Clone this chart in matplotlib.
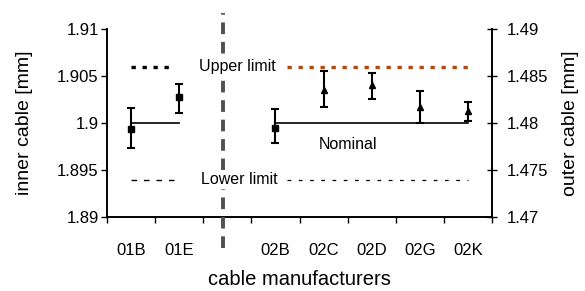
import matplotlib
matplotlib.use('Agg')
import matplotlib.pyplot as plt

plt.rcParams['font.family'] = ['Liberation Sans', 'DejaVu Sans']

# slots along the x axis (slot 2 is the gap between the two groups)
slots = ['01B', '01E', '', '02B', '02C', '02D', '02G', '02K']

# inner cable (left axis)
inner_x = [0, 1]
inner_val = [1.8994, 1.9028]
inner_lo = [1.8974, 1.9011]
inner_hi = [1.9016, 1.9042]

# outer cable (right axis)
outer_x = [3, 4, 5, 6, 7]
outer_val = [1.4795, 1.4835, 1.4841, 1.4817, 1.4813]
outer_lo = [1.4779, 1.4817, 1.4826, 1.4800, 1.4802]
outer_hi = [1.4815, 1.4856, 1.4854, 1.4834, 1.4823]

inner_limits = {'upper': 1.906, 'nominal': 1.9, 'lower': 1.894}
outer_limits = {'upper': 1.486, 'nominal': 1.48, 'lower': 1.474}

fig = plt.figure(figsize=(5.85, 2.91), dpi=100)
ax = fig.add_axes([0.183, 0.254, 0.658, 0.645])
ax2 = ax.twinx()

# left group
ax.plot([0, 0.9], [inner_limits['upper']] * 2, color='black', lw=2.4, ls=(0, (1.3, 2.0)))
ax.plot([0, 1], [inner_limits['nominal']] * 2, color='black', lw=1.2)
ax.plot([0, 0.9], [inner_limits['lower']] * 2, color='black', lw=1, ls=(0, (4, 5)))
ax.errorbar(inner_x, inner_val,
            yerr=[[v - l for v, l in zip(inner_val, inner_lo)],
                  [h - v for v, h in zip(inner_val, inner_hi)]],
            fmt='s', color='black', ms=5, capsize=3, elinewidth=1.5, capthick=1.5)

# right group
ax2.plot([3.25, 7], [outer_limits['upper']] * 2, color='#b04a14', lw=2.4, ls=(0, (1.3, 2.0)))
ax2.plot([3, 7], [outer_limits['nominal']] * 2, color='black', lw=1.2)
ax2.plot([3.25, 7], [outer_limits['lower']] * 2, color='black', lw=0.9, ls=(0, (3, 6)))
ax2.errorbar(outer_x[:1], outer_val[:1],
             yerr=[[outer_val[0] - outer_lo[0]], [outer_hi[0] - outer_val[0]]],
             fmt='s', color='black', ms=4, capsize=3, elinewidth=1.5, capthick=1.5)
ax2.errorbar(outer_x[1:], outer_val[1:],
             yerr=[[v - l for v, l in zip(outer_val[1:], outer_lo[1:])],
                   [h - v for v, h in zip(outer_val[1:], outer_hi[1:])]],
             fmt='^', color='black', ms=4, capsize=3, elinewidth=1.5, capthick=1.5)

# separator between groups
ax2.axvline(1.92, ymin=-0.165, ymax=1.087, color='#505050', lw=2.8,
            ls=(0, (3, 2)), clip_on=False, zorder=3)

box = dict(facecolor='white', edgecolor='none', pad=1.5)
ax2.text(2.2, outer_limits['upper'], 'Upper limit', ha='center', va='center',
         fontsize=11.5, bbox=box, zorder=5)
ax2.text(2.25, outer_limits['lower'], 'Lower limit', ha='center', va='center',
         fontsize=11.5, bbox=box, zorder=5)
ax2.text(4.5, 1.4777, 'Nominal', ha='center', va='center', fontsize=11.5)

ax.set_xlim(-0.5, 7.5)
ax.set_ylim(1.89, 1.91)
ax2.set_ylim(1.47, 1.49)

ax.set_xticks([i - 0.5 for i in range(9)])
ax.set_xticklabels([])
ax.set_xticks(range(8), minor=True)
ax.set_xticklabels(slots, minor=True, fontsize=12)
ax.tick_params(axis='x', which='major', direction='out', length=4, width=1)
ax.tick_params(axis='x', which='minor', length=0, pad=19)

ax.set_yticks([1.89, 1.895, 1.9, 1.905, 1.91])
ax.set_yticklabels(['1.89', '1.895', '1.9', '1.905', '1.91'], fontsize=12)
ax.tick_params(axis='y', direction='out', length=4, width=1, pad=2)
ax2.set_yticks([1.47, 1.475, 1.48, 1.485, 1.49])
ax2.set_yticklabels(['1.47', '1.475', '1.48', '1.485', '1.49'], fontsize=12)
ax2.tick_params(axis='y', direction='inout', length=7, width=1, pad=7)

for a in (ax, ax2):
    a.spines['top'].set_visible(False)
    for s in ('left', 'right', 'bottom'):
        a.spines[s].set_linewidth(1.2)

ax.set_ylabel('inner cable [mm]', fontsize=14)
ax2.set_ylabel('outer cable [mm]', fontsize=14)
ax.set_xlabel('cable manufacturers', fontsize=14.5)
ax.yaxis.set_label_coords(-0.192, 0.5)
ax2.yaxis.set_label_coords(1.182, 0.5)
ax.xaxis.set_label_coords(0.5, -0.282)

fig.savefig('out.png', dpi=100)
